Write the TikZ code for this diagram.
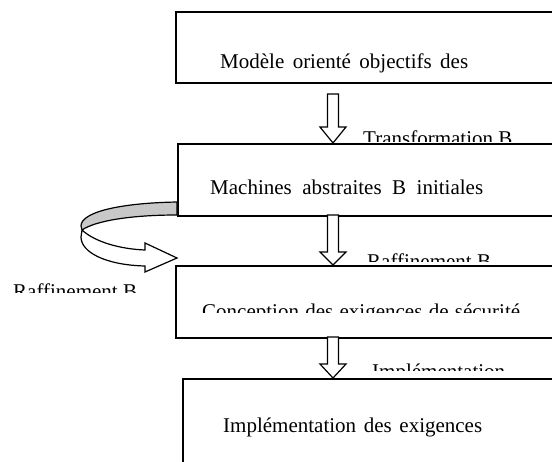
\documentclass[tikz,border=0pt]{standalone}
\usepackage{fontspec}
\setmainfont{Liberation Serif}
\definecolor{bandgray}{RGB}{200,200,200}
\newcommand\blockarrowdown[4]{% x, top y, tip y, head length
  \path[barrow] (#1-5.5,#2) -- (#1+5.5,#2) -- (#1+5.5,#3-#4) -- (#1+13,#3-#4) -- (#1,#3) -- (#1-13,#3-#4) -- (#1-5.5,#3-#4) -- cycle;}
\begin{document}
\begin{tikzpicture}[x=1pt,y=-1pt,
  box/.style={draw,line width=1.7pt,fill=white,anchor=north west,inner sep=0pt},
  barrow/.style={draw,line width=1.2pt,fill=white,line join=miter},
  txt/.style={anchor=base west,inner sep=0pt,font=\fontsize{21}{25}\selectfont}]
\useasboundingbox (0,0) rectangle (552,461);
\clip (0,0) rectangle (552,461);

% labels (clipped as in the reference)
\begin{scope}
  \clip (300,100) rectangle (552,141);
  \node[txt] (l1) at (363,145) {Transformation B};
\end{scope}
\begin{scope}
  \clip (300,230) rectangle (552,261);
  \node[txt] (l2) at (367,268) {Raffinement B};
\end{scope}
\begin{scope}
  \clip (300,340) rectangle (552,370);
  \node[txt] (l3) at (372,378) {Implémentation};
\end{scope}
\begin{scope}
  \clip (0,270) rectangle (170,292);
  \node[txt] (l4) at (13,298) {Raffinement B};
\end{scope}

% boxes
\node[box,minimum width=420pt,minimum height=71pt] (b1) at (175,11) {};
\node[box,minimum width=420pt,minimum height=72pt] (b2) at (177,143) {};
\node[box,minimum width=420pt,minimum height=72pt] (b3) at (175,265) {};
\node[box,minimum width=420pt,minimum height=120pt] (b4) at (182,378) {};

% box texts
\node[txt] (t1) at (220,68) {\makebox[248pt][s]{Modèle orienté objectifs des}};
\node[txt] (t2) at (210,194) {\makebox[273pt][s]{Machines abstraites B initiales}};
\begin{scope}
  \clip (180,280) rectangle (552,312);
  \node[txt] (t3) at (202,318) {\makebox[318pt][s]{Conception des exigences de sécurité}};
\end{scope}
\node[txt] (t4) at (223,432) {\makebox[259pt][s]{Implémentation des exigences}};

% block arrows
\blockarrowdown{333}{94}{143}{16}
\blockarrowdown{333}{215}{265}{13}
\blockarrowdown{333}{337}{378}{14}

% curved refinement arrow
\path[draw,fill=bandgray,line width=1.2pt,line join=round]
  (177,202) .. controls (120,203) and (81,212) .. (81,226)
  -- (82,230) .. controls (95,221) and (130,215) .. (177,215) -- cycle;
\path[draw,fill=white,line width=1.2pt,line join=miter]
  (82,230) .. controls (95,242) and (120,249) .. (145,250)
  -- (145,243) -- (177,258) -- (145,272) -- (145,266)
  .. controls (105,265) and (81,252) .. (81,237) -- cycle;
\end{tikzpicture}
\end{document}
